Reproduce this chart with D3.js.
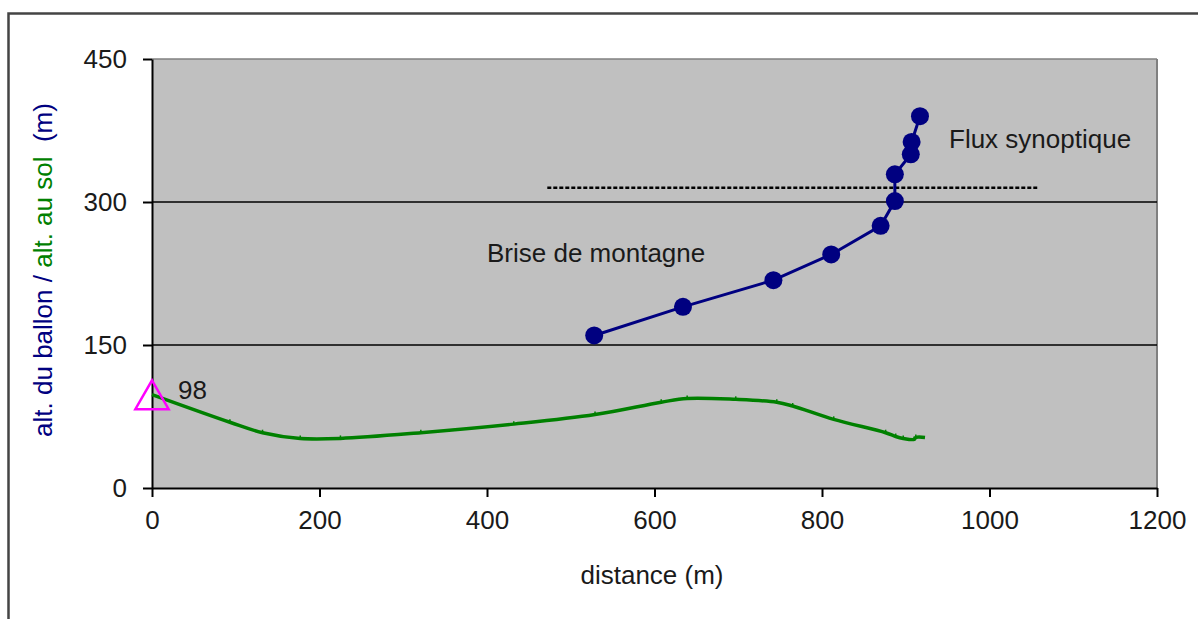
<!DOCTYPE html>
<html>
<head>
<meta charset="utf-8">
<script src="https://cdn.jsdelivr.net/npm/d3@7"></script>
<style>
html,body{margin:0;padding:0;background:#fff;}
svg{display:block;}
text{font-family:"Liberation Sans",Arial,sans-serif;}
</style>
</head>
<body>
<svg id="chart" width="1198" height="619"></svg>
<script>
// Balloon trajectory (distance m, altitude m)
const balloonDist = [528, 634, 742, 811, 870, 887, 887, 906, 907, 917];
const balloonAlt  = [160, 190, 218, 245, 275, 301, 329, 350, 363, 390];

// Ground profile (distance m, altitude m)
const groundDist = [0, 93, 132, 177, 225, 321, 432, 529, 608, 639, 697, 746, 765, 814, 876, 888, 897, 910, 912, 923];
const groundAlt  = [98, 69, 58, 52, 52, 58, 67, 77, 90, 94, 93, 90, 86, 72, 58, 54, 52, 51, 53, 53];

// Launch point
const launchDist = [0];
const launchAlt = [98];
const launchLabel = ["98"];

// Boundary between regimes (dashed line)
const boundaryDist = [472, 1057];
const boundaryAlt = [315];

const xTicks = [0, 200, 400, 600, 800, 1000, 1200];
const yTicks = [0, 150, 300, 450];
const gridValues = [150, 300];

const svg = d3.select("#chart");
const x = d3.scaleLinear().domain([0, 1200]).range([152, 1157]);
const y = d3.scaleLinear().domain([0, 450]).range([488, 59]);
const FS = 26;

// Outer frame
svg.append("rect").attr("x", 8.5).attr("y", 13.5).attr("width", 1210).attr("height", 620)
  .attr("fill", "none").attr("stroke", "#444").attr("stroke-width", 2.5);

// Plot area
svg.append("rect").attr("x", x(0)).attr("y", y(450)).attr("width", x(1200) - x(0)).attr("height", y(0) - y(450))
  .attr("fill", "#C0C0C0");
svg.append("line").attr("x1", x(0)).attr("x2", x(1200)).attr("y1", y(450)).attr("y2", y(450))
  .attr("stroke", "#808080").attr("stroke-width", 1.5);
svg.append("line").attr("x1", x(1200)).attr("x2", x(1200)).attr("y1", y(450)).attr("y2", y(0))
  .attr("stroke", "#808080").attr("stroke-width", 2);

// Gridlines
svg.selectAll(".grid").data(gridValues).enter().append("line")
  .attr("x1", x(0)).attr("x2", x(1200)).attr("y1", d => y(d)).attr("y2", d => y(d))
  .attr("stroke", "#000").attr("stroke-width", 1.5);

// Axes
const fmt = d3.format("d");
const xAxis = d3.axisBottom(x).tickValues(xTicks).tickFormat(fmt).tickSize(9).tickPadding(14).tickSizeOuter(0);
const gx = svg.append("g").attr("transform", `translate(0,${y(0)})`).call(xAxis);
const yAxis = d3.axisLeft(y).tickValues(yTicks).tickFormat(fmt).tickSize(9).tickPadding(16).tickSizeOuter(0);
const gy = svg.append("g").attr("transform", `translate(${x(0)},0)`).call(yAxis);
[gx, gy].forEach(g => {
  g.select(".domain").attr("stroke", "#000").attr("stroke-width", 2);
  g.selectAll(".tick line").attr("stroke", "#000").attr("stroke-width", 2);
  g.selectAll(".tick text").attr("font-size", FS).attr("fill", "#1a1a1a")
    .attr("font-family", "'Liberation Sans', Arial, sans-serif");
});
gy.selectAll(".tick text").attr("dy", "0.32em");

// Dashed boundary
svg.append("line").attr("x1", x(boundaryDist[0])).attr("x2", x(boundaryDist[1]))
  .attr("y1", y(boundaryAlt[0])).attr("y2", y(boundaryAlt[0]))
  .attr("stroke", "#000").attr("stroke-width", 2.5).attr("stroke-dasharray", "4,2");

// Ground line
const groundData = groundDist.map((d, i) => [d, groundAlt[i]]);
svg.append("path").datum(groundData)
  .attr("d", d3.line().x(d => x(d[0])).y(d => y(d[1])).curve(d3.curveCatmullRom.alpha(0.5)))
  .attr("fill", "none").attr("stroke", "#008000").attr("stroke-width", 3.5);
svg.selectAll(".gmark").data(groundData.slice(1, -1)).enter().append("line")
  .attr("x1", d => x(d[0])).attr("x2", d => x(d[0]))
  .attr("y1", d => y(d[1]) - 3).attr("y2", d => y(d[1]))
  .attr("stroke", "#008000").attr("stroke-width", 1.5);

// Balloon line
const balloonData = balloonDist.map((d, i) => [d, balloonAlt[i]]);
svg.append("path").datum(balloonData)
  .attr("d", d3.line().x(d => x(d[0])).y(d => y(d[1])))
  .attr("fill", "none").attr("stroke", "#000080").attr("stroke-width", 3);
svg.selectAll(".bmark").data(balloonData).enter().append("circle")
  .attr("cx", d => x(d[0])).attr("cy", d => y(d[1])).attr("r", 9)
  .attr("fill", "#000080");

// Launch triangle
const tri = d3.symbol().type(d3.symbolTriangle).size(480);
svg.selectAll(".launch").data(launchDist).enter().append("path")
  .attr("d", tri)
  .attr("transform", (d, i) => `translate(${x(d)},${y(launchAlt[i]) + 5})`)
  .attr("fill", "none").attr("stroke", "#FF00FF").attr("stroke-width", 2.5);
svg.selectAll(".launchLabel").data(launchLabel).enter().append("text")
  .attr("x", x(launchDist[0]) + 26).attr("y", y(launchAlt[0]) - 5)
  .attr("dy", "0.35em").attr("font-size", FS).attr("fill", "#1a1a1a").text(d => d);

// Annotations
svg.append("text").attr("x", 487).attr("y", 253).attr("dy", "0.35em")
  .attr("font-size", FS).attr("fill", "#1a1a1a").text("Brise de montagne");
svg.append("text").attr("x", 949).attr("y", 139).attr("dy", "0.35em")
  .attr("font-size", FS).attr("fill", "#1a1a1a").text("Flux synoptique");

// Axis titles
svg.append("text").attr("x", 652).attr("y", 575).attr("dy", "0.35em").attr("text-anchor", "middle")
  .attr("font-size", FS).attr("fill", "#1a1a1a").text("distance (m)");
const yt = svg.append("text").attr("transform", "translate(43,270) rotate(-90)")
  .attr("text-anchor", "middle").attr("dy", "0.35em").attr("font-size", FS);
yt.append("tspan").attr("fill", "#000080").text("alt. du ballon / ");
yt.append("tspan").attr("fill", "#008000").text("alt. au sol");
yt.append("tspan").attr("fill", "#000080").text("\u00a0 (m)");
</script>
</body>
</html>
